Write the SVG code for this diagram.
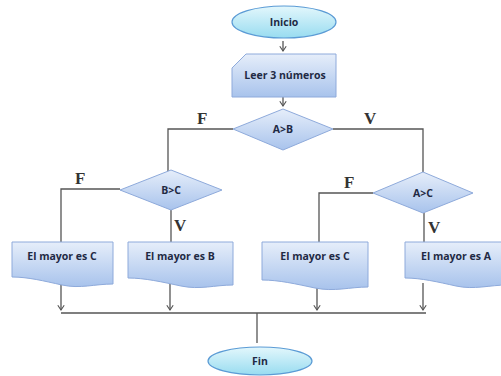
<svg xmlns="http://www.w3.org/2000/svg" width="501" height="376" viewBox="0 0 501 376">
<defs>
<linearGradient id="gEll" x1="0" y1="0" x2="0" y2="1">
<stop offset="0" stop-color="#e3f7fc"/><stop offset="1" stop-color="#98dcf0"/>
</linearGradient>
<linearGradient id="gBox" x1="0" y1="0" x2="0" y2="1">
<stop offset="0" stop-color="#e6eefa"/><stop offset="1" stop-color="#a8c3ec"/>
</linearGradient>
<marker id="arr" viewBox="0 0 10 10" refX="9" refY="5" markerWidth="8" markerHeight="8" markerUnits="userSpaceOnUse" orient="auto">
<path d="M3,1 L9,5 L3,9" fill="none" stroke="#555" stroke-width="1.4"/>
</marker>
<style>
.ell{fill:url(#gEll);stroke:#5b9bd5;stroke-width:1.2}
.box{fill:url(#gBox);stroke:#8eaadb;stroke-width:1}
.t{font-family:"Open Sans","Liberation Sans",sans-serif;font-weight:bold;font-size:10.5px;fill:#1f2a44;text-anchor:middle}
.lab{font-family:"Liberation Serif",serif;font-weight:bold;font-size:17px;fill:#333}
.ln{fill:none;stroke:#555;stroke-width:1.3}
.ar{fill:none;stroke:#555;stroke-width:1.3;marker-end:url(#arr)}
</style>
</defs>
<g id="connectors">
<line class="ar" x1="283" y1="41" x2="283" y2="51"/>
<line class="ar" x1="283" y1="97" x2="283" y2="106"/>
<polyline class="ln" points="233,129 168,129 168,172"/>
<polyline class="ln" points="333,129 423,129 423,172"/>
<polyline class="ln" points="120,189 61,189 61,242"/>
<line class="ln" x1="171" y1="210" x2="171" y2="242"/>
<polyline class="ln" points="373,193 319,193 319,242"/>
<line class="ln" x1="424" y1="213" x2="424" y2="242"/>
<line class="ar" x1="61" y1="284" x2="61" y2="310"/>
<line class="ar" x1="170" y1="284" x2="170" y2="310"/>
<line class="ar" x1="317" y1="288" x2="317" y2="310"/>
<line class="ar" x1="423" y1="283" x2="423" y2="310"/>
<line class="ln" x1="61" y1="313" x2="426" y2="313"/>
<line class="ln" x1="257" y1="313" x2="257" y2="343"/>
<text class="lab" x="197" y="124">F</text>
<text class="lab" x="364" y="124">V</text>
<text class="lab" x="75" y="184">F</text>
<text class="lab" x="174" y="231">V</text>
<text class="lab" x="344" y="188">F</text>
<text class="lab" x="428" y="233">V</text>
</g>
<g id="inicio">
<ellipse class="ell" cx="284" cy="22" rx="52" ry="16"/>
<text class="t" x="284" y="26">Inicio</text>
</g>
<g id="leer">
<path class="box" d="M232,68 L246,54 H336 V97 H232 Z"/>
<text class="t" x="285" y="79">Leer 3 números</text>
</g>
<g id="d_ab">
<path class="box" d="M283,109 L333,129 L283,150 L233,129 Z"/>
<text class="t" x="283" y="133">A&gt;B</text>
</g>
<g id="d_bc">
<path class="box" d="M171,170 L222,190 L171,210 L120,190 Z"/>
<text class="t" x="171" y="194">B&gt;C</text>
</g>
<g id="d_ac">
<path class="box" d="M423,172 L473,193 L423,213 L373,193 Z"/>
<text class="t" x="423" y="197">A&gt;C</text>
</g>
<g id="box1">
<path class="box" d="M12,242 H113 V284 C95,284 80,289 62,285 C44,281 28,277 12,277 Z"/>
<text class="t" x="62" y="260">El mayor es C</text>
</g>
<g id="box2">
<path class="box" d="M128,242 H233 V285 C215,285 200,290 181,286 C162,282 145,278 128,278 Z"/>
<text class="t" x="180" y="260">El mayor es B</text>
</g>
<g id="box3">
<path class="box" d="M262,242 H368 V287 C350,287 334,292 315,288 C296,284 279,280 262,280 Z"/>
<text class="t" x="315" y="260">El mayor es C</text>
</g>
<g id="box4">
<path class="box" d="M405,242 H507 V285 C490,285 474,290 456,286 C438,282 421,278 405,278 Z"/>
<text class="t" x="456" y="260">El mayor es A</text>
</g>
<g id="fin">
<ellipse class="ell" cx="260" cy="361" rx="52" ry="14"/>
<text class="t" x="260" y="365">Fin</text>
</g>
</svg>
